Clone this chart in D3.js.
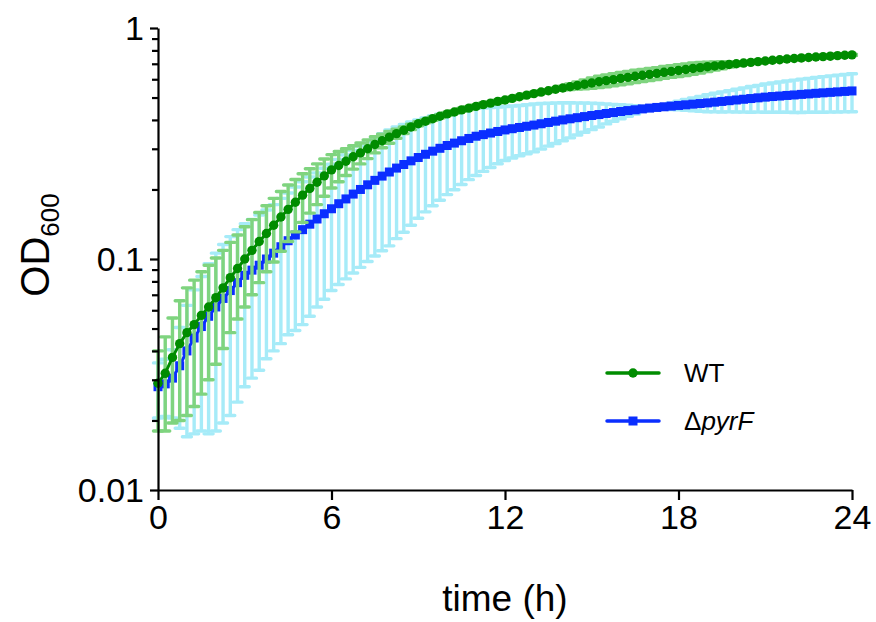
<!DOCTYPE html>
<html>
<head>
<meta charset="utf-8">
<script src="https://cdn.jsdelivr.net/npm/d3@7"></script>
<style>
  body { margin: 0; background: #fff; }
  text { font-family: "Liberation Sans", Arial, sans-serif; fill: #000; }
</style>
</head>
<body>
<div class="container"></div>
<script>
// OD600 readings every 15 min, 0..24 h (mean and SD)
var wtMean = [
  0.029, 0.032, 0.0375, 0.043, 0.048, 0.052, 0.057, 0.062,
  0.068, 0.075, 0.083, 0.091, 0.100, 0.109, 0.119, 0.129,
  0.140, 0.152, 0.164, 0.176, 0.189, 0.202, 0.215, 0.229,
  0.243, 0.254, 0.265, 0.277, 0.288, 0.300, 0.313, 0.325,
  0.337, 0.349, 0.361, 0.373, 0.385, 0.395, 0.405, 0.415,
  0.425, 0.433, 0.442, 0.450, 0.458, 0.466, 0.473, 0.481,
  0.488, 0.496, 0.504, 0.512, 0.520, 0.528, 0.535, 0.543,
  0.550, 0.557, 0.564, 0.571, 0.578, 0.585, 0.592, 0.598,
  0.605, 0.611, 0.618, 0.624, 0.630, 0.636, 0.643, 0.649,
  0.655, 0.661, 0.668, 0.674, 0.680, 0.685, 0.690, 0.695,
  0.700, 0.705, 0.710, 0.715, 0.720, 0.725, 0.729, 0.734,
  0.738, 0.742, 0.745, 0.749, 0.752, 0.755, 0.759, 0.762,
  0.765
];
var wtSd = [
  0.011, 0.014, 0.018, 0.023, 0.027, 0.029, 0.031, 0.032,
  0.033, 0.034, 0.035, 0.036, 0.038, 0.039, 0.040, 0.041,
  0.043, 0.044, 0.045, 0.045, 0.045, 0.044, 0.043, 0.042,
  0.040, 0.038, 0.035, 0.032, 0.030, 0.028, 0.025, 0.022,
  0.020, 0.016, 0.012, 0.010, 0.008, 0.006, 0.006, 0.006,
  0.006, 0.006, 0.006, 0.006, 0.006, 0.006, 0.006, 0.006,
  0.006, 0.006, 0.006, 0.006, 0.006, 0.006, 0.006, 0.006,
  0.010, 0.015, 0.020, 0.025, 0.030, 0.033, 0.035, 0.036,
  0.037, 0.038, 0.038, 0.038, 0.038, 0.038, 0.038, 0.038,
  0.038, 0.038, 0.038, 0.035, 0.032, 0.028, 0.024, 0.018,
  0.012, 0.006, 0.006, 0.006, 0.006, 0.006, 0.006, 0.006,
  0.006, 0.006, 0.006, 0.006, 0.006, 0.006, 0.006, 0.006,
  0.006
];
var pyrMean = [
  0.0280, 0.0288, 0.0305, 0.0345, 0.0400, 0.0455, 0.0510, 0.0565,
  0.0620, 0.0675, 0.0730, 0.0790, 0.0850, 0.0895, 0.0940, 0.1000,
  0.1060, 0.1130, 0.1200, 0.1270, 0.1340, 0.1415, 0.1490, 0.1570,
  0.1650, 0.1735, 0.1820, 0.1910, 0.2000, 0.2095, 0.2190, 0.2285,
  0.2380, 0.2475, 0.2565, 0.2660, 0.2750, 0.2840, 0.2930, 0.3015,
  0.3100, 0.3175, 0.3250, 0.3325, 0.3400, 0.3455, 0.3510, 0.3565,
  0.3620, 0.3665, 0.3710, 0.3755, 0.3800, 0.3850, 0.3900, 0.3950,
  0.4000, 0.4045, 0.4090, 0.4135, 0.4180, 0.4220, 0.4265, 0.4305,
  0.4350, 0.4390, 0.4425, 0.4465, 0.4500, 0.4530, 0.4560, 0.4590,
  0.4620, 0.4650, 0.4680, 0.4710, 0.4740, 0.4775, 0.4810, 0.4845,
  0.4880, 0.4915, 0.4950, 0.4985, 0.5020, 0.5050, 0.5075, 0.5105,
  0.5130, 0.5160, 0.5185, 0.5215, 0.5240, 0.5265, 0.5290, 0.5315,
  0.5340
];
var pyrSd = [
  0.0075, 0.008, 0.010, 0.016, 0.023, 0.028, 0.033, 0.039,
  0.044, 0.048, 0.052, 0.055, 0.057, 0.059, 0.061, 0.063,
  0.066, 0.070, 0.073, 0.078, 0.082, 0.085, 0.087, 0.090,
  0.092, 0.096, 0.100, 0.104, 0.108, 0.112, 0.116, 0.120,
  0.124, 0.125, 0.126, 0.126, 0.125, 0.124, 0.123, 0.122,
  0.120, 0.118, 0.115, 0.112, 0.110, 0.106, 0.102, 0.098,
  0.095, 0.093, 0.091, 0.090, 0.089, 0.086, 0.082, 0.079,
  0.075, 0.070, 0.065, 0.060, 0.055, 0.049, 0.042, 0.036,
  0.030, 0.024, 0.018, 0.011, 0.005, 0.006, 0.010, 0.015,
  0.020, 0.025, 0.030, 0.035, 0.040, 0.044, 0.048, 0.051,
  0.055, 0.059, 0.063, 0.066, 0.070, 0.073, 0.076, 0.079,
  0.082, 0.085, 0.087, 0.090, 0.092, 0.094, 0.096, 0.098,
  0.100
];
var STEP_H = 0.25;
var xTicks = [0, 6, 12, 18, 24];
var yMajor = [0.01, 0.1, 1];
var yMinor = [0.02, 0.03, 0.04, 0.05, 0.06, 0.07, 0.08, 0.09,
              0.2, 0.3, 0.4, 0.5, 0.6, 0.7, 0.8, 0.9];

const WIDTH = 876;
const HEIGHT = 622;
const LEFT = 158, RIGHT = 852, TOP = 28, BOTTOM = 490;

var _svg, _x, _y;

var translate = function (x, y) {
  return "translate(" + x + "," + y + ")";
};

var toPoints = function (mean, sd) {
  return mean.map(function (m, i) {
    return { t: i * STEP_H, m: m, lo: Math.max(m - sd[i], 0.0101), hi: m + sd[i] };
  });
};

var drawAxes = function () {
  var yAxis = d3.axisLeft(_y)
    .tickValues(yMajor.concat(yMinor))
    .tickSize(8)
    .tickSizeOuter(0)
    .tickPadding(6)
    .tickFormat(function (d) { return yMajor.indexOf(d) >= 0 ? String(d) : ''; });

  var gy = _svg.append('g')
    .attr('transform', translate(LEFT, 0))
    .call(yAxis);
  gy.selectAll('.tick')
    .filter(function (d) { return yMajor.indexOf(d) < 0; })
    .select('line').attr('x2', -6);

  var xAxis = d3.axisBottom(_x)
    .tickValues(xTicks)
    .tickSize(10)
    .tickSizeOuter(0)
    .tickPadding(5);

  var gx = _svg.append('g')
    .attr('transform', translate(0, BOTTOM))
    .call(xAxis);

  [gx, gy].forEach(function (g) {
    g.select('.domain').attr('stroke-width', 2.2);
    g.selectAll('.tick line').attr('stroke-width', 2.2);
    g.selectAll('.tick text').attr('font-size', 34).attr('font-family', '"Liberation Sans", Arial, sans-serif');
  });
  gy.selectAll('.tick text').attr('dy', '0.35em');
  gx.selectAll('.tick text').attr('dy', '0.72em');

  _svg.append('text')
    .attr('x', (LEFT + RIGHT) / 2)
    .attr('y', 611)
    .attr('text-anchor', 'middle')
    .attr('font-size', 37)
    .text('time (h)');

  var yt = _svg.append('text')
    .attr('transform', translate(49, 245) + ' rotate(-90)')
    .attr('text-anchor', 'middle')
    .attr('font-size', 40);
  yt.append('tspan').text('OD');
  yt.append('tspan').attr('font-size', 26).attr('dy', 10).text('600');
};

var drawSeries = function (pts, lineColor, barColor, marker) {
  var g = _svg.append('g');

  g.selectAll('path.err')
    .data(pts)
    .enter().append('path')
    .attr('class', 'err')
    .attr('fill', 'none')
    .attr('stroke', barColor)
    .attr('stroke-width', 3.4)
    .attr('stroke-linecap', 'round')
    .attr('d', function (p) {
      var x = _x(p.t), yh = _y(p.hi), yl = _y(p.lo);
      return 'M' + (x - 4.5) + ',' + yh + 'H' + (x + 4.5) +
             'M' + x + ',' + yh + 'V' + yl +
             'M' + (x - 4.5) + ',' + yl + 'H' + (x + 4.5);
    });

  var line = d3.line()
    .x(function (p) { return _x(p.t); })
    .y(function (p) { return _y(p.m); });

  g.append('path')
    .attr('d', line(pts))
    .attr('fill', 'none')
    .attr('stroke', lineColor)
    .attr('stroke-width', 3);

  if (marker === 'circle') {
    g.selectAll('circle')
      .data(pts)
      .enter().append('circle')
      .attr('cx', function (p) { return _x(p.t); })
      .attr('cy', function (p) { return _y(p.m); })
      .attr('r', 4.7)
      .attr('fill', lineColor);
  } else {
    g.selectAll('rect')
      .data(pts)
      .enter().append('rect')
      .attr('x', function (p) { return _x(p.t) - 4.5; })
      .attr('y', function (p) { return _y(p.m) - 4.5; })
      .attr('width', 9)
      .attr('height', 9)
      .attr('fill', lineColor);
  }
};

var drawLegend = function () {
  var items = [
    { name: 'WT', color: '#008c00', marker: 'circle', y: 373 },
    { name: 'pyrF', color: '#0a2eff', marker: 'square', y: 421 }
  ];
  items.forEach(function (it) {
    var g = _svg.append('g').attr('transform', translate(607, it.y));
    g.append('line').attr('x1', 0).attr('x2', 52)
      .attr('stroke', it.color).attr('stroke-width', 3.5).attr('stroke-linecap', 'round');
    if (it.marker === 'circle') {
      g.append('circle').attr('cx', 26).attr('r', 4.7).attr('fill', it.color);
    } else {
      g.append('rect').attr('x', 21.5).attr('y', -4.5).attr('width', 9).attr('height', 9).attr('fill', it.color);
    }
    var t = g.append('text').attr('x', 77).attr('y', 9).attr('font-size', 26);
    if (it.name === 'WT') {
      t.text('WT');
    } else {
      t.append('tspan').text('Δ');
      t.append('tspan').attr('font-style', 'italic').text('pyrF');
    }
  });
};

var onload = function () {
  _svg = d3.select('.container').append('svg')
    .attr('width', WIDTH)
    .attr('height', HEIGHT);

  _x = d3.scaleLinear().domain([0, 24]).range([LEFT, RIGHT]);
  _y = d3.scaleLog().domain([0.01, 1]).range([BOTTOM, TOP]);

  drawSeries(toPoints(pyrMean, pyrSd), '#0a2eff', '#a6ebf8', 'square');
  drawSeries(toPoints(wtMean, wtSd), '#008c00', '#7fd47f', 'circle');
  drawAxes();
  drawLegend();
};

window.onload = onload;
</script>
</body>
</html>
